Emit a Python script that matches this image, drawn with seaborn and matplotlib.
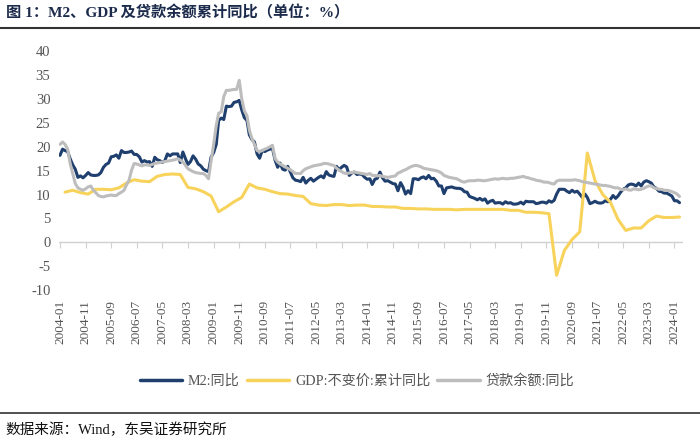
import pandas as pd
import numpy as np
import seaborn as sns
import matplotlib
matplotlib.use("Agg")
import matplotlib.pyplot as plt
import matplotlib.lines as mlines

# monthly series, 2004-01 .. 2024-03
m2 = [
    18.2, 19.5, 19.2, 19.0, 17.5, 16.2, 15.3, 13.6, 13.9, 13.5, 14.0, 14.6,
    14.1, 14.0, 14.0, 14.1, 14.6, 15.7, 16.3, 16.6, 17.9, 18.0, 18.3, 17.6,
    19.2, 18.8, 18.8, 18.9, 19.1, 18.4, 18.4, 17.9, 16.8, 17.1, 16.8, 16.9,
    15.9, 17.8, 17.3, 17.1, 16.7, 17.1, 18.5, 18.1, 18.5, 18.5, 18.5, 16.7,
    18.9, 17.5, 16.3, 16.9, 18.1, 17.4, 16.4, 16.0, 15.3, 15.0, 14.8, 17.8,
    18.8, 20.5, 25.5, 26.0, 25.7, 28.5, 28.4, 28.5, 29.3, 29.4, 29.7, 27.7,
    26.1, 25.5, 22.5, 21.5, 21.0, 18.5, 17.6, 19.2, 19.0, 19.3, 19.5, 19.7,
    17.2, 15.7, 16.6, 15.3, 15.1, 15.9, 14.7, 13.5, 13.0, 12.9, 12.7, 13.6,
    12.4, 13.0, 13.4, 12.8, 13.2, 13.6, 13.9, 13.5, 14.8, 14.1, 13.9, 13.8,
    15.9, 15.2, 15.7, 16.1, 15.8, 14.0, 14.5, 14.7, 14.2, 14.3, 14.2, 13.6,
    13.2, 13.3, 12.1, 13.2, 13.4, 14.7, 13.5, 12.8, 12.9, 12.6, 12.3, 12.2,
    10.8, 12.5, 11.6, 10.1, 10.8, 10.2, 13.3, 13.3, 13.1, 13.5, 13.7, 13.3,
    14.0, 13.3, 13.4, 12.8, 11.8, 11.8, 10.2, 11.4, 11.5, 11.6, 11.4, 11.3,
    11.3, 11.1, 10.6, 10.5, 9.6, 9.4, 9.2, 8.9, 9.2, 8.8, 9.1, 8.2,
    8.6, 8.8, 8.2, 8.3, 8.3, 8.0, 8.5, 8.2, 8.3, 8.0, 8.0, 8.1,
    8.4, 8.0, 8.6, 8.5, 8.5, 8.5, 8.1, 8.2, 8.4, 8.4, 8.2, 8.7,
    8.4, 8.8, 10.1, 11.1, 11.1, 11.1, 10.7, 10.4, 10.9, 10.5, 10.7, 10.1,
    9.4, 10.1, 9.4, 8.1, 8.3, 8.6, 8.3, 8.2, 8.3, 8.7, 8.5, 9.0,
    9.8, 9.2, 9.7, 10.5, 11.1, 11.4, 12.0, 12.2, 12.1, 11.8, 12.4, 11.8,
    12.6, 12.9, 12.7, 12.4, 11.6, 11.3, 10.7, 10.6, 10.3, 10.3, 10.0, 9.7,
    8.7, 8.7, 8.3,
]

loans = [
    20.5, 21.0, 20.5, 19.5, 16.5, 14.4, 12.3, 11.4, 11.1, 10.9, 11.2, 11.6,
    11.8, 10.9, 10.4, 9.8, 9.6, 9.5, 9.7, 9.8, 9.9, 9.8, 9.8, 10.2,
    10.5, 10.9, 12.0, 13.0, 15.1, 16.5, 16.4, 16.2, 16.0, 16.2, 16.2, 16.1,
    16.3, 16.5, 16.6, 16.7, 16.8, 16.9, 17.0, 17.1, 17.2, 17.3, 17.5, 17.2,
    16.8, 16.1, 15.4, 15.1, 14.8, 14.6, 14.5, 14.4, 14.4, 14.0, 13.3, 17.0,
    20.5, 24.5, 27.0, 27.3, 30.5, 31.8, 31.8, 31.9, 32.0, 32.0, 33.9, 30.0,
    27.5, 26.5, 23.5, 21.7, 20.5, 19.2, 19.0, 19.2, 19.5, 19.7, 20.0, 20.3,
    17.5, 16.8, 16.4, 16.1, 15.8, 15.5, 15.2, 14.8, 14.4, 14.4, 14.4, 15.0,
    15.4, 15.6, 15.8, 16.0, 16.1, 16.2, 16.3, 16.5, 16.5, 16.4, 16.2, 16.1,
    15.5, 15.1, 14.8, 14.5, 14.4, 14.5, 14.6, 14.7, 14.6, 14.5, 14.4, 14.3,
    14.2, 14.4, 14.0, 14.0, 13.9, 14.0, 13.8, 13.7, 13.6, 13.7, 13.8, 13.9,
    14.5, 14.7, 15.0, 15.2, 15.5, 15.8, 16.0, 16.1, 16.0, 15.8, 15.5, 15.4,
    15.3, 15.2, 15.1, 15.0, 14.8, 14.5, 14.0, 13.8, 13.6, 13.5, 13.4, 13.3,
    13.0, 12.7, 12.6, 12.8, 12.9, 12.9, 12.9, 13.0, 13.0, 12.9, 12.9, 13.0,
    13.1, 13.2, 13.3, 13.2, 13.3, 13.4, 13.3, 13.3, 13.4, 13.4, 13.5, 13.6,
    13.7, 13.8, 13.6, 13.5, 13.3, 13.2, 13.0, 12.9, 12.8, 12.6, 12.6, 12.5,
    12.3, 12.2, 12.8, 13.0, 13.0, 13.0, 13.0, 13.0, 13.0, 13.1, 13.0, 12.9,
    12.7, 12.6, 12.5, 12.4, 12.3, 12.2, 12.1, 12.0, 11.9, 11.9, 11.8, 11.7,
    11.5, 11.4, 11.4, 11.1, 11.0, 11.2, 11.0, 10.9, 11.2, 11.1, 11.0, 11.1,
    11.3, 11.6, 11.8, 11.8, 11.4, 11.3, 11.1, 11.1, 10.9, 10.9, 10.8, 10.6,
    10.4, 10.1, 9.6,
]

# quarterly GDP cumulative yoy, 2004Q1 .. 2024Q1
gdp = [
    10.5, 10.9, 10.4, 10.1,
    11.1, 11.1, 11.0, 11.4,
    12.4, 13.1, 12.8, 12.7,
    13.8, 14.2, 14.3, 14.2,
    11.5, 11.2, 10.6, 9.7,
    6.4, 7.4, 8.5, 9.4,
    12.2, 11.4, 11.1, 10.6,
    10.2, 10.1, 9.8, 9.6,
    8.1, 7.8, 7.7, 7.9,
    7.9, 7.7, 7.8, 7.8,
    7.5, 7.5, 7.4, 7.4,
    7.1, 7.1, 7.0, 7.0,
    6.9, 6.9, 6.9, 6.8,
    6.9, 6.9, 6.9, 6.9,
    6.9, 6.9, 6.7, 6.7,
    6.3, 6.3, 6.2, 6.0,
    -6.9, -1.7, 0.6, 2.2,
    18.7, 12.9, 10.0, 8.4,
    4.8, 2.5, 3.0, 3.0,
    4.5, 5.5, 5.2, 5.2,
    5.3,
]

names = ["M2:同比", "GDP:不变价:累计同比", "贷款余额:同比"]
colors = {names[0]: "#1F3F6E", names[1]: "#F8D35C", names[2]: "#BDBDBD"}

months = pd.date_range("2004-01-01", periods=len(m2), freq="MS")
quarters = pd.date_range("2004-03-01", periods=len(gdp), freq="3MS")

df = pd.concat([
    pd.DataFrame({"date": months, "value": m2, "series": names[0]}),
    pd.DataFrame({"date": quarters, "value": gdp, "series": names[1]}),
    pd.DataFrame({"date": months, "value": loans, "series": names[2]}),
])

sns.set_style("white")
plt.rcParams["font.family"] = ["Liberation Serif", "Noto Sans CJK SC", "DejaVu Sans"]
plt.rcParams["axes.unicode_minus"] = False

fig = plt.figure(figsize=(7, 4.45), dpi=100)
ax = fig.add_axes([0.084, 0.348, 0.892, 0.537])

sns.lineplot(data=df, x="date", y="value", hue="series", hue_order=names,
             palette=colors, estimator=None, linewidth=2.2, legend=False, ax=ax)

ax.set_ylim(-10, 40)
ax.set_yticks(range(-10, 41, 5))
ax.set_xlim(pd.Timestamp("2003-12-18"), pd.Timestamp("2024-04-14"))
tick_dates = pd.date_range("2004-01-01", "2024-01-01", freq="10MS")
ax.set_xticks(tick_dates)
ax.set_xticklabels([d.strftime("%Y-%m") for d in tick_dates], rotation=90)
ax.set_xlabel("")
ax.set_ylabel("")
for s in ax.spines.values():
    s.set_visible(False)
ax.tick_params(axis="x", length=0, labelsize=9.5, labelcolor="#555555", pad=7)
ax.tick_params(axis="y", length=0, labelsize=10.5, labelcolor="#555555", pad=6)

# zero line with its own tick marks
ax.axhline(0, color="#D0D0D0", lw=1, zorder=0)
sec = ax.secondary_xaxis(0.2)
sec.set_xticks(tick_dates)
sec.tick_params(axis="x", length=4, color="#D0D0D0", labelbottom=False, direction="out")
sec.spines["bottom"].set_visible(False)
sec.set_xticklabels([])

handles = [mlines.Line2D([], [], color=colors[n], lw=2.5) for n in names]
fig.legend(handles, names, loc="center", bbox_to_anchor=(0.51, 0.143), ncol=3,
           frameon=False, fontsize=10.2, handlelength=3.0, columnspacing=0.5,
           handletextpad=0.4, labelcolor="#555555")

fig.text(0.008, 0.972, "图 1：M2、GDP 及贷款余额累计同比（单位：%）", fontsize=11,
         fontweight="bold", color="#1C2B4B", va="center")
fig.add_artist(mlines.Line2D([0, 1], [0.937, 0.937], color="#333333", lw=1.5))
fig.add_artist(mlines.Line2D([0, 1], [0.072, 0.072], color="#333333", lw=1.2))
fig.text(0.008, 0.034, "数据来源：Wind，东吴证券研究所", fontsize=10.5, color="#111111",
         va="center")

fig.savefig("out.png", dpi=100)
